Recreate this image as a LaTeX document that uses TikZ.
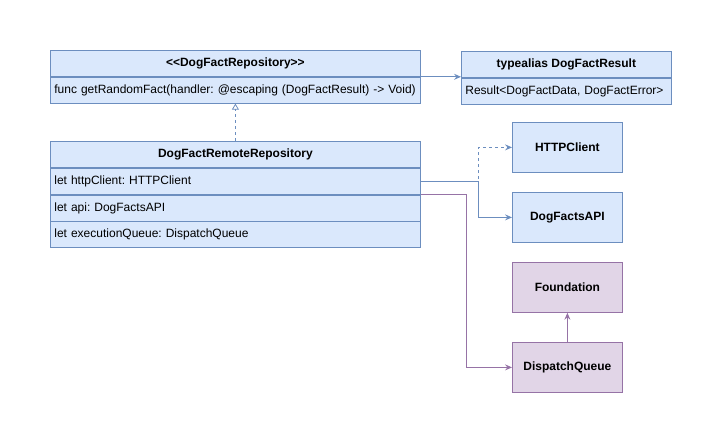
\documentclass[tikz,border=0pt]{standalone}
\usepackage{fontspec}
\setmainfont{Liberation Sans}
\usepackage{tikz}
\usetikzlibrary{positioning, arrows.meta}
\definecolor{bluefill}{HTML}{DAE8FC}
\definecolor{bluedraw}{HTML}{6C8EBF}
\definecolor{purplefill}{HTML}{E1D5E7}
\definecolor{purpledraw}{HTML}{9673A6}

\begin{document}
\frenchspacing
\begin{tikzpicture}[
        x=1pt, y=-1pt,
        line width=0.8pt,
        font=\fontsize{12}{14}\selectfont,
        head/.style={draw=bluedraw, fill=bluefill, minimum width=#1, minimum height=26pt, inner sep=0pt, anchor=north west, font=\fontsize{12}{14}\selectfont\bfseries},
        head/.default=370pt,
        row/.style={draw=bluedraw, fill=bluefill, text width=#1-8pt, inner xsep=4pt, inner ysep=0pt, minimum height=26pt, align=left},
        row/.default=370pt,
        type/.style={draw=#1draw, fill=#1fill, minimum width=110pt, minimum height=50pt, inner sep=0pt, anchor=north west, font=\fontsize{12}{14}\selectfont\bfseries},
        type/.default=blue,
        arr/.style={-{Stealth[length=7pt, width=6pt, inset=2.5pt]}},
    ]
    \useasboundingbox (0,0) rectangle (722,443);

    % ---- Protocol ----
    \node[head] (repo) at (50,50) {<\kern0pt<DogFactRepository>\kern0pt>};
    \node[row, below=0pt of repo] (repofunc) {func getRandomFact(handler: @escaping (DogFactResult) -> Void)};

    % ---- Typealias ----
    \node[head=210pt] (tahead) at (461,51) {typealias DogFactResult};
    \node[row=210pt, below=0pt of tahead] (tarow) {Result<DogFactData, DogFactError>};

    % ---- Remote repository ----
    \node[head] (remote) at (50,141) {DogFactRemoteRepository};
    \node[row, below=0pt of remote] (rhttp) {let httpClient: HTTPClient};
    \node[row, below=0pt of rhttp] (rapi) {let api: DogFactsAPI};
    \node[row, below=0pt of rapi] (rqueue) {let executionQueue: DispatchQueue};

    % ---- Dependencies ----
    \node[type] (http) at (512,122) {HTTPClient};
    \node[type] (api) at (512,192) {DogFactsAPI};
    \node[type=purple] (found) at (512,262) {Foundation};
    \node[type=purple] (dq) at (512,342) {DispatchQueue};

    % ---- Connectors ----
    \draw[arr, bluedraw] (repo.south east) -- (repo.south east -| tahead.west);
    \draw[dashed, bluedraw, -{Triangle[open, length=6pt, width=7pt]}] (remote.north) -- (repofunc.south);
    \draw[arr, dashed, bluedraw] (rhttp.east) -- ++(58,0) |- (http.west);
    \draw[arr, bluedraw] (rhttp.east) -- ++(58,0) |- (api.west);
    \draw[arr, purpledraw] (rhttp.south east) -- ++(46,0) |- (dq.west);
    \draw[arr, purpledraw] (dq.north) -- (found.south);
\end{tikzpicture}
\end{document}
